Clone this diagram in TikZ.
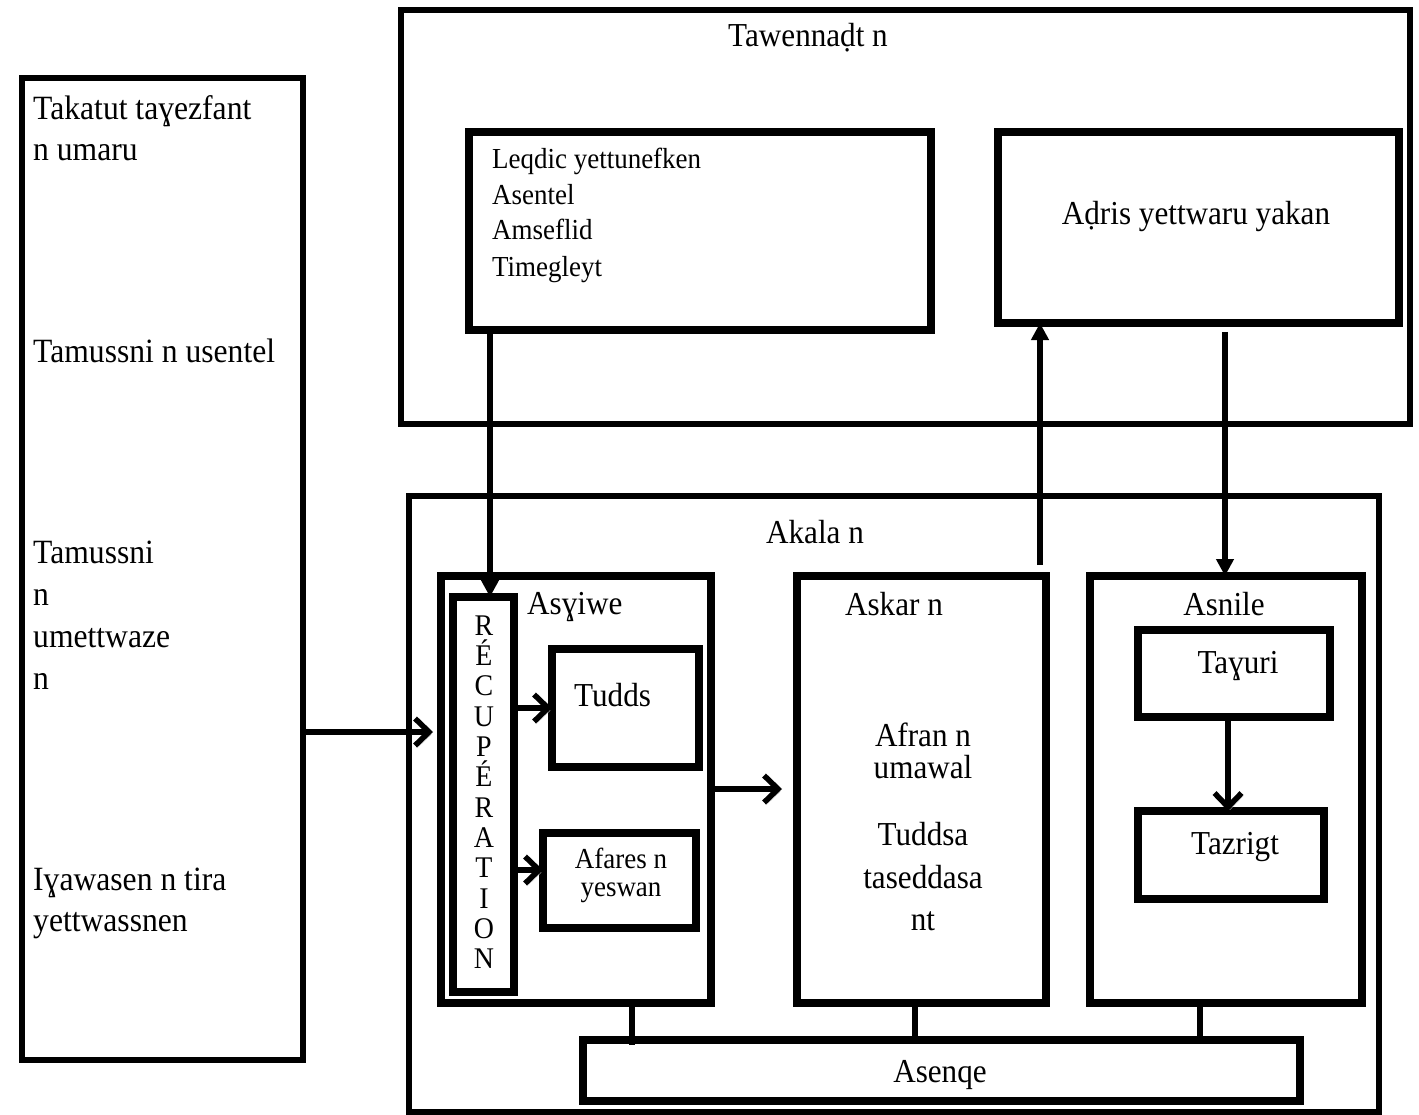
\documentclass[tikz,border=0pt]{standalone}
\usepackage{fontspec}
\setmainfont[FakeStretch=0.93]{Liberation Serif}
\usetikzlibrary{arrows.meta,calc}
\tikzset{
  outerbox/.style={draw, line width=5.5pt, inner sep=0pt, outer sep=0pt},
  innerbox/.style={draw, line width=7.5pt, inner sep=0pt, outer sep=0pt},
  txt/.style={inner sep=0pt, font=\fontsize{33.5pt}{38pt}\selectfont},
  smalltxt/.style={inner sep=0pt, font=\fontsize{29pt}{34pt}\selectfont},
  lefttxt/.style={inner sep=0pt, anchor=base west, font=\fontsize{34pt}{38pt}\selectfont},
  solidarrow/.style={line width=6pt, -{Triangle[length=17pt,width=17pt]}},
  openarrow/.style={line width=5.5pt, -{Straight Barb[length=14pt,width=27pt]},
    preaction={draw=gray!60, transform canvas={shift={(2pt,-2.5pt)}}}},
  link/.style={line width=5.5pt},
}
\begin{document}
\begin{tikzpicture}[x=1pt,y=-1pt]
\useasboundingbox (0,0) rectangle (1419,1115);

% boxes
\node[outerbox, minimum width=281pt, minimum height=982pt] (L) at (162.5,569) {};
\node[outerbox, minimum width=1009pt, minimum height=414pt] (T) at (905.5,217) {};
\node[innerbox, minimum width=462pt, minimum height=198pt] (Q) at (700,231) {};
\node[innerbox, minimum width=401pt, minimum height=191pt] (D) at (1198.5,227.5) {};
\node[outerbox, minimum width=970pt, minimum height=616pt] (K) at (894,804) {};
\node[innerbox, minimum width=270pt, minimum height=427pt] (S) at (576,789.5) {};
\node[innerbox, minimum width=61pt, minimum height=395pt] (R) at (483.5,794.5) {};
\node[innerbox, minimum width=147pt, minimum height=118pt] (U) at (625.5,708) {};
\node[innerbox, minimum width=153pt, minimum height=95pt] (F) at (619.5,880.5) {};
\node[innerbox, minimum width=249pt, minimum height=427pt] (A) at (921.5,789.5) {};
\node[innerbox, minimum width=272pt, minimum height=427pt] (N) at (1226,789.5) {};
\node[innerbox, minimum width=192pt, minimum height=87pt] (G) at (1234,673.5) {};
\node[innerbox, minimum width=186pt, minimum height=88pt] (Z) at (1231,855) {};
\node[innerbox, minimum width=717pt, minimum height=61pt] (E) at (941.5,1070.5) {};

% texts: left box
\node[lefttxt] (l1) at (33,120) {Takatut taɣezfant};
\node[lefttxt] (l2) at (33,161) {n umaru};
\node[lefttxt] (l3) at (33,362) {Tamussni n usentel};
\node[lefttxt] (l4) at (33,563) {Tamussni};
\node[lefttxt] (l5) at (33,605) {n};
\node[lefttxt] (l6) at (33,647) {umettwaze};
\node[lefttxt] (l7) at (33,689) {n};
\node[lefttxt] (l8) at (33,890) {Iɣawasen n tira};
\node[lefttxt] (l9) at (33,931) {yettwassnen};

% texts: top
\node[txt, anchor=base] (tT) at (808,47) {Tawennaḍt n};
\node[smalltxt, anchor=base west] (q1) at (492,169) {Leqdic yettunefken};
\node[smalltxt, anchor=base west] (q2) at (492,205) {Asentel};
\node[smalltxt, anchor=base west] (q3) at (492,240) {Amseflid};
\node[smalltxt, anchor=base west] (q4) at (492,277) {Timegleyt};
\node[txt, anchor=base] (tD) at (1196,225) {Aḍris yettwaru yakan};

% texts: Akala
\node[txt, anchor=base] (tK) at (815,543) {Akala n};
\node[txt, anchor=base west] (tS) at (527,614) {Asɣiwe};
\foreach \c [count=\i from 0] in {R,É,C,U,P,É,R,A,T,I,O,N}{
  \node[inner sep=0pt, anchor=base, font=\fontsize{30pt}{32pt}\selectfont] (r\i) at (484,{635+\i*30.36}) {\c};
}
\node[txt, anchor=base west] (tU) at (574,706) {Tudds};
\node[smalltxt, anchor=base] (f1) at (621,868) {Afares n};
\node[smalltxt, anchor=base] (f2) at (621,896) {yeswan};
\node[txt, anchor=base] (tA) at (894,615) {Askar n};
\node[txt, anchor=base] (a1) at (923,746) {Afran n};
\node[txt, anchor=base] (a2) at (923,778) {umawal};
\node[txt, anchor=base] (a3) at (923,845) {Tuddsa};
\node[txt, anchor=base] (a4) at (923,888) {taseddasa};
\node[txt, anchor=base] (a5) at (923,930) {nt};
\node[txt, anchor=base] (tN) at (1224,615) {Asnile};
\node[txt, anchor=base] (tG) at (1238,673) {Taɣuri};
\node[txt, anchor=base] (tZ) at (1235,854) {Tazrigt};
\node[txt, anchor=base] (tE) at (940,1082) {Asenqe};

% connectors
\draw[solidarrow] (Q.south -| 490,0) -- (R.north -| 490,0);
\draw[solidarrow, shorten <=11pt] (A.north -| 1040,0) -- (D.south -| 1040,0);
\draw[solidarrow, shorten <=9pt] (D.south -| 1225,0) -- (N.north -| 1225,0);
\draw[openarrow, shorten >=8pt] (L.east |- 0,732) -- (S.west |- 0,732);
\draw[openarrow, shorten >=15pt] (S.east |- 0,789) -- (A.west |- 0,789);
\draw[openarrow] (R.east |- 0,708) -- (U.west |- 0,708);
\draw[openarrow] (R.east |- 0,870) -- (F.west |- 0,870);
\draw[openarrow] (G.south -| 1228,0) -- (Z.north -| 1228,0);
\draw[link] (S.south -| 632,0) -- ($(E.north -| 632,0)+(0,5)$);
\draw[link] (A.south -| 915,0) -- (E.north -| 915,0);
\draw[link] (N.south -| 1200,0) -- (E.north -| 1200,0);
\end{tikzpicture}
\end{document}
